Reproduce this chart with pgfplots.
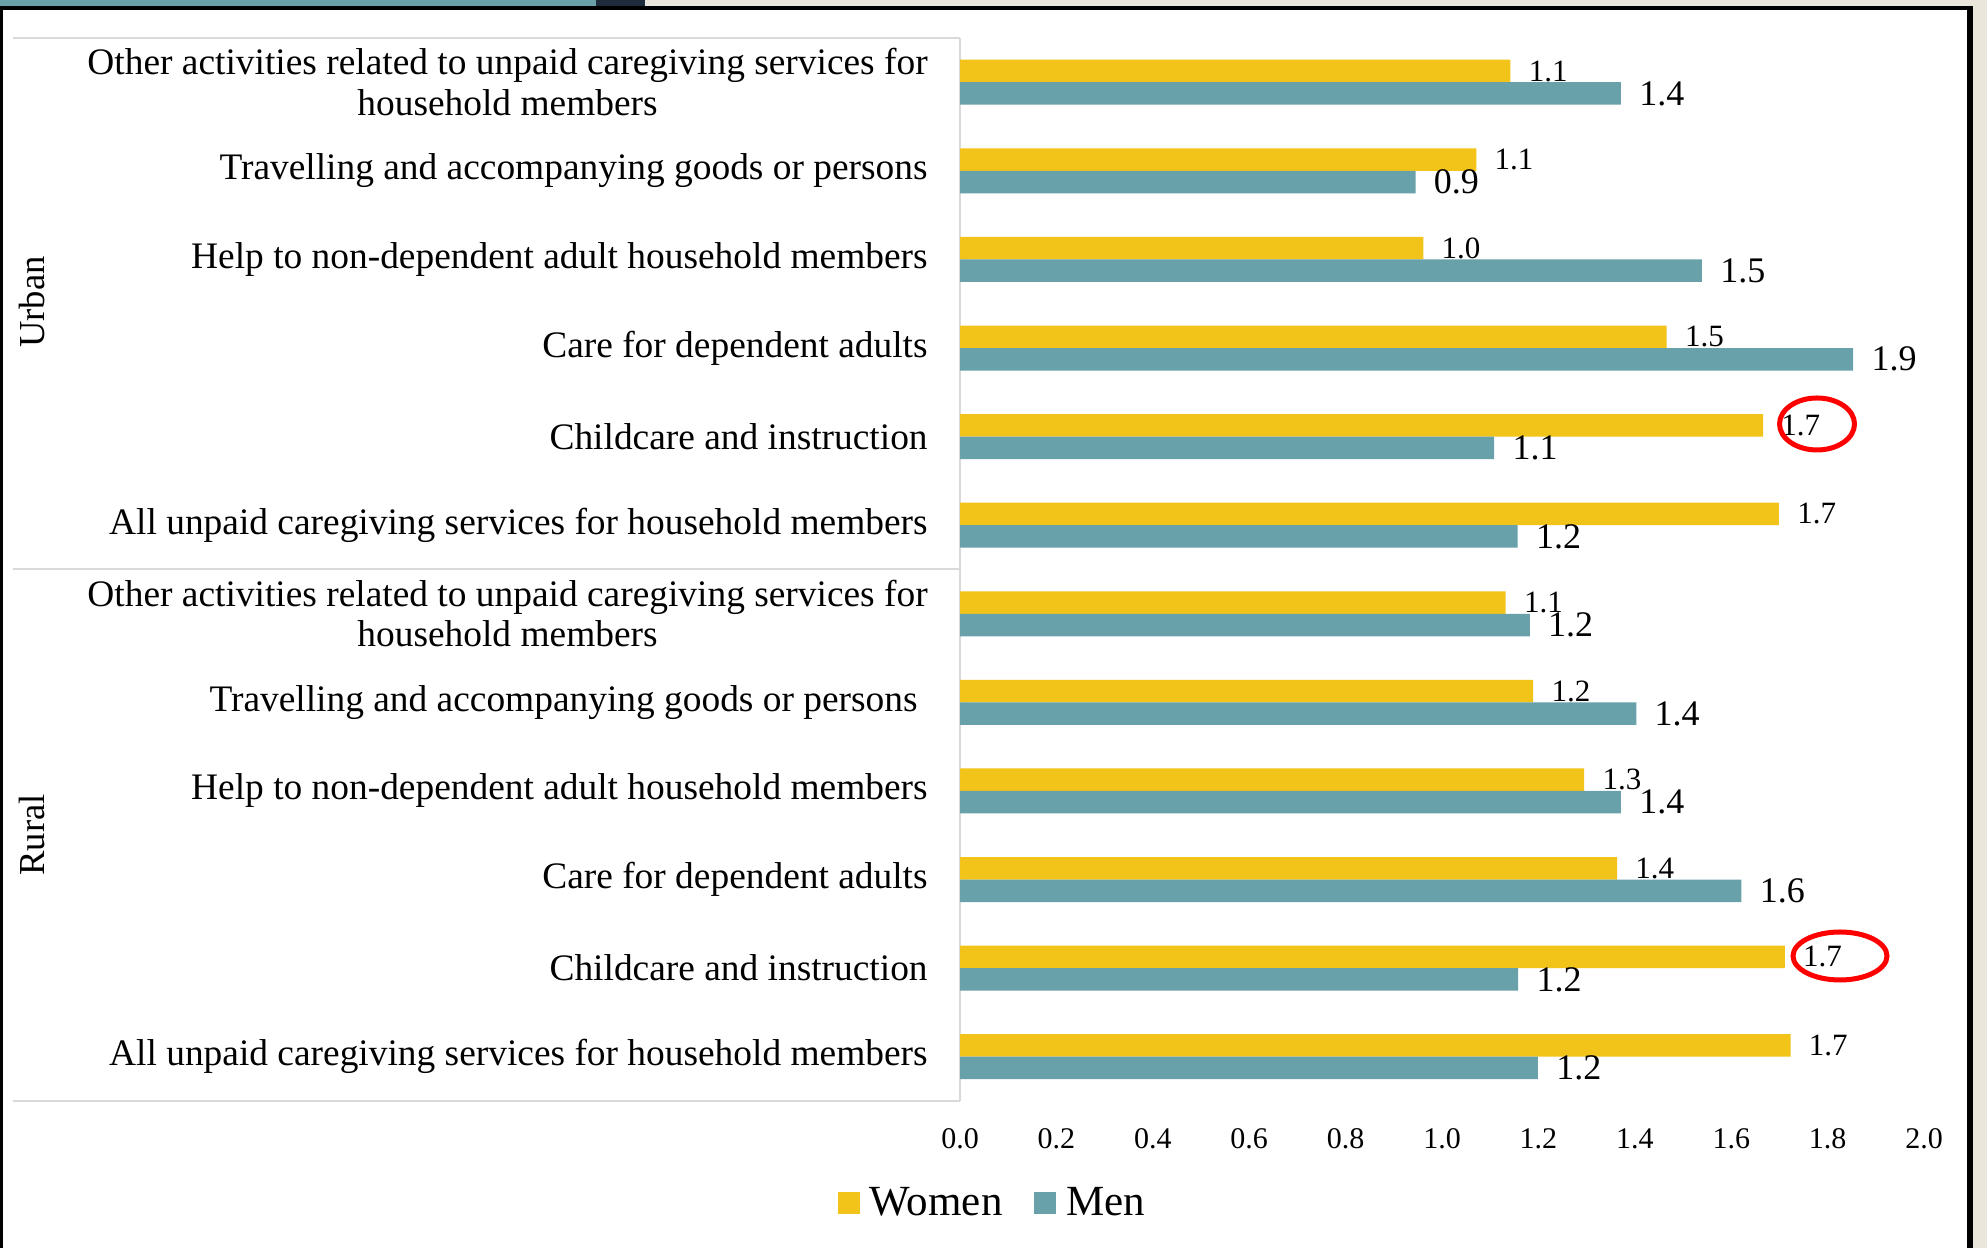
\documentclass[border=0pt]{standalone}
\usepackage{fontspec}
\setmainfont{Liberation Serif}
\usepackage{pgfplots}
\pgfplotsset{compat=1.18}
\usepackage{pgfplotstable}

\definecolor{women}{RGB}{242,196,25}
\definecolor{men}{RGB}{104,161,170}
\definecolor{panel}{RGB}{217,217,217}
\definecolor{navy}{RGB}{30,44,60}
\definecolor{beige}{RGB}{234,230,220}

\pgfplotstableread{
y women men
0 1.723 1.199
1 1.711 1.158
2 1.363 1.621
3 1.295 1.371
4 1.189 1.403
5 1.132 1.182
6 1.699 1.157
7 1.666 1.108
8 1.466 1.853
9 0.961 1.539
10 1.071 0.945
11 1.142 1.371
}\data

\begin{document}
\begin{tikzpicture}[x=0.5bp,y=0.5bp]
\useasboundingbox (0,0) rectangle (1987,1248);
\fill[white] (0,0) rectangle (1987,1248);
% frame of the screenshot
\fill[men] (0,1242) rectangle (596,1248);
\fill[navy] (596,1242) rectangle (645,1248);
\fill[beige] (645,1242) rectangle (1987,1248);
\fill[beige] (1973,0) rectangle (1987,1248);
\fill[black] (0,1238) rectangle (1973,1242);
\fill[black] (0,0) rectangle (3,1242);
\fill[black] (1967,0) rectangle (1973,1242);
% category panel
\draw[panel, line width=1.25bp] (13,1210) -- (960,1210);
\draw[panel, line width=1.25bp] (13,679) -- (960,679);
\draw[panel, line width=1.25bp] (13,147) -- (960,147);
\draw[panel, line width=1.25bp] (960,1210) -- (960,147);

\node[rotate=90, font=\fontsize{18.3bp}{20.25bp}\selectfont] at (32,946) {Urban};
\node[rotate=90, font=\fontsize{18.3bp}{20.25bp}\selectfont] at (32,413) {Rural};

\begin{axis}[
  at={(480bp,73.5bp)}, anchor=south west,
  width=482bp, height=531.5bp, scale only axis,
  xbar, bar width=11.25bp,
  xmin=0, xmax=2, ymin=-0.5, ymax=11.5,
  axis line style={draw=none},
  major tick length=0pt,
  xtick={0,0.2,0.4,0.6,0.8,1.0,1.2,1.4,1.6,1.8,2.0},
  ytick={0,...,11},
  yticklabels={
    {All unpaid caregiving services for household members},
    {Childcare and instruction},
    {Care for dependent adults},
    {Help to non-dependent adult household members},
    {Travelling and accompanying goods or persons\rule{5bp}{0pt}},
    {Other activities related to unpaid caregiving services for\\household members},
    {All unpaid caregiving services for household members},
    {Childcare and instruction},
    {Care for dependent adults},
    {Help to non-dependent adult household members},
    {Travelling and accompanying goods or persons},
    {Other activities related to unpaid caregiving services for\\household members}
  },
  yticklabel style={font=\fontsize{18.7bp}{20.25bp}\selectfont, align=center, anchor=east, inner sep=0pt, xshift=-16bp},
  xticklabel style={font=\fontsize{15bp}{18bp}\selectfont, anchor=center, inner sep=0pt, yshift=-19bp},
  /pgf/number format/.cd, fixed, fixed zerofill, precision=1, assume math mode=true,
  /pgfplots/.cd,
  nodes near coords,
  point meta=x,
  every node near coord/.append style={anchor=west, inner sep=0pt, xshift=9bp},
  legend columns=2,
  legend style={draw=none, fill=none, at={(0.0327,-0.096)}, anchor=center,
    font=\fontsize{21.5bp}{24bp}\selectfont,
    nodes={inner sep=0pt},
    /tikz/every even column/.append style={column sep=16bp},
    /tikz/every odd column/.append style={column sep=5bp}},
  legend image code/.code={\fill[#1] (0bp,-5.5bp) rectangle (11bp,5.5bp);},
]
\addplot[fill=women, draw=none, bar shift=5.625bp,
  every node near coord/.append style={font=\fontsize{15.5bp}{18bp}\selectfont}]
  table[x=women, y=y] {\data};
\addlegendentry{Women}
\addplot[fill=men, draw=none, bar shift=-5.625bp,
  every node near coord/.append style={font=\fontsize{18bp}{20bp}\selectfont}]
  table[x=men, y=y] {\data};
\addlegendentry{Men}
\end{axis}

\draw[red, line width=2.5bp] (1817,824) ellipse [x radius=37.5, y radius=26];
\draw[red, line width=2.5bp] (1840,292) ellipse [x radius=47, y radius=24];
\end{tikzpicture}
\end{document}
